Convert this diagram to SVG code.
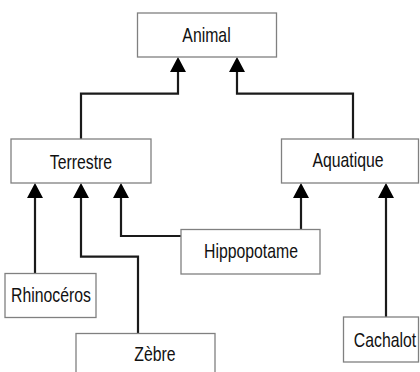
<svg xmlns="http://www.w3.org/2000/svg" width="420" height="372" viewBox="0 0 420 372">
  <defs>
    <marker id="tri" viewBox="0 0 15 16" refX="12" refY="8" markerWidth="15" markerHeight="16" markerUnits="userSpaceOnUse" orient="auto">
      <path d="M0,0 L15,8 L0,16 Z" fill="#000"/>
    </marker>
    <style>
      .box { fill: #fff; stroke: #808080; stroke-width: 1.3; }
      .lbl { font-family: "Liberation Sans", Arial, sans-serif; font-size: 15.8px; fill: #111; text-anchor: middle; }
      .conn { fill: none; stroke: #1a1a1a; stroke-width: 2.2; marker-end: url(#tri); }
    </style>
  </defs>
  <rect width="420" height="372" fill="#fff"/>

  <g id="connectors">
    <path class="conn" d="M81,139 V93.7 H178 V60"/>
    <path class="conn" d="M353,139 V93.7 H237 V60"/>
    <path class="conn" d="M35,273 V186"/>
    <path class="conn" d="M138,333 V256.7 H81 V186"/>
    <path class="conn" d="M181,236 H121 V186"/>
    <path class="conn" d="M301,229 V186"/>
    <path class="conn" d="M386,317 V186"/>
  </g>

  <g id="animal">
    <rect class="box" x="137.5" y="13" width="139" height="44"/>
    <text class="lbl" transform="translate(206.5,42) scale(1,1.3)">Animal</text>
  </g>
  <g id="terrestre">
    <rect class="box" x="11" y="139" width="140" height="44"/>
    <text class="lbl" transform="translate(81,169) scale(1,1.3)">Terrestre</text>
  </g>
  <g id="aquatique">
    <rect class="box" x="281.5" y="139" width="137" height="44"/>
    <text class="lbl" transform="translate(348,167) scale(1,1.3)">Aquatique</text>
  </g>
  <g id="hippopotame">
    <rect class="box" x="181" y="229.5" width="139" height="44.5"/>
    <text class="lbl" transform="translate(251,258) scale(1,1.3)">Hippopotame</text>
  </g>
  <g id="rhinoceros">
    <rect class="box" x="5" y="273.5" width="91" height="44"/>
    <text class="lbl" transform="translate(51,301.5) scale(1,1.3)">Rhinocéros</text>
  </g>
  <g id="zebre">
    <rect class="box" x="76" y="333.5" width="139" height="44"/>
    <text class="lbl" transform="translate(155,360.5) scale(1,1.3)">Zèbre</text>
  </g>
  <g id="cachalot">
    <rect class="box" x="343.5" y="317" width="75" height="45"/>
    <text class="lbl" transform="translate(385,346.5) scale(1,1.3)">Cachalot</text>
  </g>
</svg>
